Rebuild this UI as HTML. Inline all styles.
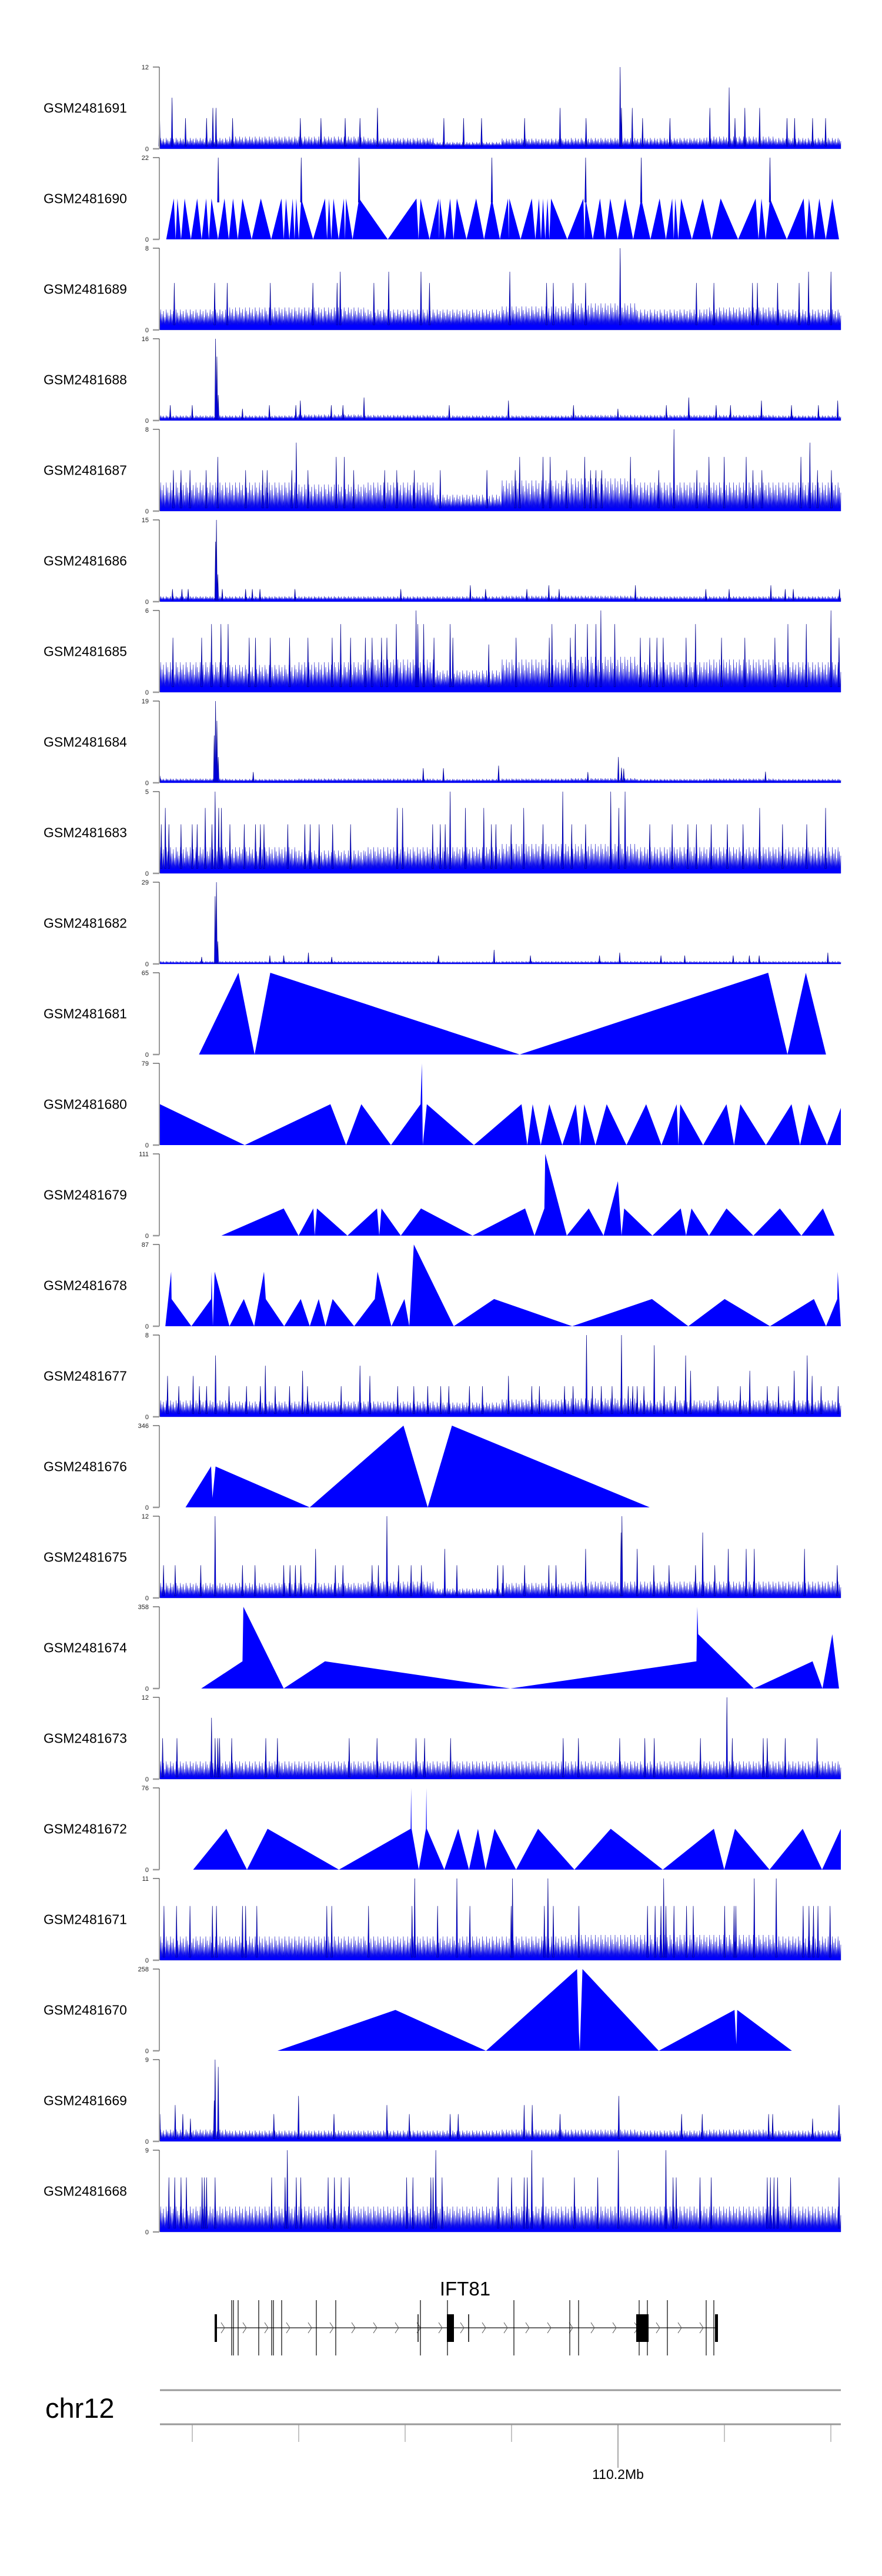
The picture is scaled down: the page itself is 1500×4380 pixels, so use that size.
<!DOCTYPE html>
<html><head><meta charset="utf-8"><style>
html,body{margin:0;padding:0;background:#fff;}
svg{display:block;font-family:"Liberation Sans",Arial,sans-serif;}
</style></head><body>
<svg id="chart" width="1500" height="4380" viewBox="0 0 1500 4380" xmlns="http://www.w3.org/2000/svg">
<g id="tracks"></g>
<g id="gene">
  <text x="791" y="3903" font-size="33" text-anchor="middle" fill="#000">IFT81</text>
</g>
<g id="axis">
  <text x="77" y="4111" font-size="47" fill="#000">chr12</text>
  <line x1="272" y1="4064" x2="1430" y2="4064" stroke="#999" stroke-width="3"/>
  <line x1="272" y1="4122" x2="1430" y2="4122" stroke="#999" stroke-width="3"/>
</g>
</svg>
<script>
// ---------- data ----------
const trackNames = ["GSM2481691","GSM2481690","GSM2481689","GSM2481688","GSM2481687","GSM2481686","GSM2481685","GSM2481684","GSM2481683","GSM2481682","GSM2481681","GSM2481680","GSM2481679","GSM2481678","GSM2481677","GSM2481676","GSM2481675","GSM2481674","GSM2481673","GSM2481672","GSM2481671","GSM2481670","GSM2481669","GSM2481668"];
const trackMax = [12,22,8,16,8,15,6,19,5,29,65,79,111,87,8,346,12,358,12,76,11,258,9,9];
const trackKind = ["n","p","n","n","n","n","n","n","n","n","t","t","t","t","n","t","n","t","n","t","n","t","n","n"];
const posDomain = [16,1534];

// noisy tracks: bin levels, floor, tall spikes
const lvl1691=[1.6,1.8,1.8,1.6,1.0,1.5,1.6,1.6,1.8,1.6]; const floor1691=0.4;
const spkPos1691=[15,43,73,120,134,141,178,329,375,429,462,501,649,693,733,829,908,966,1042,1045,1069,1092,1153,1242,1285,1298,1320,1353,1414,1431,1471,1500];
const spkVal1691=[6,7.5,4.5,4.5,6,6,4.5,4.5,4.5,4.5,4.5,6,4.5,4.5,4.5,4.5,6,4.5,12,6,6,4.5,4.5,6,9,4.5,6,6,4.5,4.5,4.5,4.5];

const pkPos1690=[47,55,71,99,119,131,160,179,200,241,287,297,312,320,331,384,393,403,426,431,460,588,597,637,640,663,678,721,756,792,795,845,861,870,880,888,960,965,997,1020,1053,1089,1130,1158,1165,1178,1226,1266,1344,1357,1376,1451,1463,1486,1515];
const pkVal1690=[11,11,11,11,11,11,11,11,11,11,11,11,11,11,11,11,11,11,11,11,11,11,11,11,11,11,11,11,11,11,11,11,11,11,11,11,11,11,11,11,11,11,11,11,11,11,11,11,11,11,11,11,11,11,11];
const spkPos1690=[146,331,460,756,965,1089,1376];
const spkVal1690=[22,22,22,22,22,22,22];
const pkEnds1690=[30,1530];

const lvl1689=[2.0,2.2,2.2,2.0,2.0,2.3,2.6,2.0,2.2,2.0]; const floor1689=0.5;
const spkPos1689=[48,138,166,262,357,411,418,493,526,598,617,796,878,893,937,965,1042,1212,1251,1337,1348,1393,1441,1462,1512];
const spkVal1689=[4.6,4.6,4.6,4.6,4.6,4.6,5.7,4.6,5.7,5.7,4.6,5.7,4.6,4.6,4.6,4.6,8,4.6,4.6,4.6,4.6,4.6,4.6,5.7,5.7];

const lvl1688=[1.0,1.0,1.2,1.1,1.0,1.0,1.1,1.1,1.1,1.0]; const floor1688=0.3;
const spkPos1688=[39,88,140,143,146,200,260,319,329,398,424,471,661,793,938,1037,1145,1195,1256,1288,1357,1424,1484,1527];
const spkVal1688=[3,3,16,12.5,5,2.3,3,3,3.9,3,3,4.5,3,3.9,3,2.3,3,4.5,3,3,3.9,3,3,3.9];

const lvl1687=[2.8,2.8,2.6,2.8,1.6,3.0,3.2,2.8,2.8,2.8]; const floor1687=0.3;
const spkPos1687=[46,63,83,119,145,207,245,255,310,320,346,409,427,448,517,544,583,641,745,808,818,870,886,923,963,976,988,1001,1065,1128,1162,1213,1240,1274,1323,1338,1358,1445,1465,1482,1513];
const spkVal1687=[4,4,4,4,5.3,4,4,4,4,6.7,4,5.3,5.3,4,4,4,4,4,4,4,5.3,5.3,5.3,4,5.3,4,4,4,5.3,4,8,4,5.3,5.3,5.3,4,4,5.3,6.7,4,4];

const lvl1686=[1.0,1.0,1.0,1.0,1.0,1.1,1.1,1.0,1.0,1.0]; const floor1686=0.3;
const spkPos1686=[44,65,79,140,142,145,155,207,222,239,317,553,708,742,834,883,906,1076,1233,1285,1378,1410,1428,1531];
const spkVal1686=[2.3,2.3,2.3,11,15,5,2.3,2.3,2.3,2.3,2.3,2.3,3,2.3,2.3,3,2.3,3,2.3,2.3,3,2.3,2.3,2.3];

const lvl1685=[2.2,2.0,2.2,2.4,1.6,2.4,2.6,2.2,2.4,2.2]; const floor1685=0.4;
const spkPos1685=[45,109,131,152,168,215,229,262,305,346,400,419,441,474,489,510,522,543,587,591,604,627,663,669,749,810,884,890,931,942,969,988,999,1030,1087,1108,1124,1138,1189,1210,1268,1320,1387,1416,1457,1512,1530];
const spkVal1685=[4,4,5,5,5,4,4,4,4,4,4,5,4,4,4,4,4,5,6,5,5,4,5,4,3.5,4,4,5,4,5,5,5,6,5,4,4,4,4,4,5,4,4,4,5,5,6,4];

const lvl1684=[1.0,0.9,1.0,1.0,0.9,1.0,1.1,0.9,1.0,0.9]; const floor1684=0.3;
const spkPos1684=[16,137,140,143,146,224,603,648,771,970,1038,1045,1050,1366];
const spkVal1684=[1.6,11,19,14.4,6,2.5,3.4,3.4,4,2.5,6,3.5,3.3,2.6];

const lvl1683=[1.6,1.6,1.4,1.6,1.6,1.8,1.8,1.6,1.6,1.6]; const floor1683=0.3;
const spkPos1683=[19,28,36,63,88,99,117,132,139,147,153,172,204,229,240,248,301,339,351,371,401,441,545,557,624,641,652,663,697,738,755,765,799,827,870,914,934,965,1021,1039,1053,1108,1158,1193,1212,1245,1281,1316,1353,1404,1458,1500];
const spkVal1683=[3,4,3,3,3,3,4,3,5,4,4,3,3,3,3,3,3,3,3,3,3,3,4,4,3,3,3,5,4,4,3,3,3,4,3,5,3,3,5,4,5,3,3,3,3,3,3,3,4,3,3,4];

const lvl1682=[1.0,1.0,1.0,1.0,0.9,1.0,1.0,1.0,1.0,1.0]; const floor1682=0.3;
const spkPos1682=[109,139,142,145,261,292,347,399,637,761,842,996,1041,1133,1186,1294,1330,1352,1505];
const spkVal1682=[2.5,24,29,8,3,3,4,2.5,3,5,3,3,4,3,3,3,3,3,4];

const pos1681=[103,191,227,262,818,1372,1415,1456,1501];
const val1681=[0,65,0,65,0,65,0,65,0];

const pos1680=[16,205,396,431,465,531,597,600,602,611,716,822,835,847,865,884,913,943,953,962,987,1012,1056,1100,1134,1168,1172,1176,1227,1279,1296,1310,1367,1424,1443,1463,1503,1534];
const val1680=[39.5,0,39.5,0,39.5,0,39.5,79,0,39.5,0,39.5,0,39.5,0,39.5,0,39.5,0,39.5,0,39.5,0,39.5,0,39.5,0,39.5,0,39.5,0,39.5,0,39.5,0,39.5,0,36];

const pos1679=[153,292,325,358,361,366,434,500,505,510,553,598,713,830,851,873,875,923,972,1005,1037,1045,1051,1114,1177,1189,1201,1240,1279,1339,1398,1446,1494,1520];
const val1679=[0,37,0,37,0,37,0,37,0,37,0,37,0,37,0,37,111,0,37,0,74,0,37,0,37,0,37,0,37,0,37,0,37,0];

const pos1678=[28,41,42,86,130,131,134,138,171,203,226,248,252,293,330,350,370,385,401,449,495,501,532,561,572,582,671,761,935,1113,1194,1275,1376,1474,1501,1526,1527,1534];
const val1678=[0,58,29,0,29,58,0,58,0,29,0,58,29,0,29,0,29,0,29,0,29,58,0,29,0,87,0,29,0,29,0,29,0,29,0,29,58,0];

const lvl1677=[1.6,1.5,1.5,1.5,1.4,1.7,1.8,1.6,1.6,1.6]; const floor1677=0.3;
const spkPos1677=[33,58,90,104,120,140,170,209,240,251,273,305,334,345,420,462,484,546,582,613,642,660,706,735,793,845,862,918,937,967,980,1000,1024,1045,1060,1070,1080,1095,1118,1140,1165,1188,1199,1260,1310,1331,1370,1395,1430,1459,1470,1490,1528];
const spkVal1677=[4,3,4,3,3,6,3,3,3,5,3,3,4.5,3,3,5,4,3,3,3,3,3,3,3,4,3,3,3,3,8,3,3,3,8,3,3,3,3,7,3,3,6,4.5,3,3,4.5,3,3,4.5,6,4,3,3];

const pos1676=[73,130,133,140,350,559,613,667,1108];
const val1676=[0,174,40,173,0,346,0,346,0];

const lvl1675=[2.2,2.2,2.2,2.4,1.4,2.2,2.4,2.4,2.4,2.4]; const floor1675=0.3;
const spkPos1675=[24,50,107,139,200,228,292,306,318,330,363,407,424,489,503,522,548,576,599,651,678,769,781,829,883,899,965,1044,1046,1080,1117,1151,1210,1226,1253,1283,1323,1341,1453,1526];
const spkVal1675=[4.8,4.8,4.8,12,4.8,4.8,4.8,4.8,4.8,4.8,7.2,4.8,4.8,4.8,4.8,12,4.8,4.8,4.8,7.2,4.8,4.8,4.8,4.8,4.8,4.8,7.2,9.6,12,7.2,4.8,4.8,4.8,9.6,4.8,7.2,7.2,7.2,7.2,4.8];

const pos1674=[108,200,202,292,384,797,1212,1214,1216,1340,1471,1493,1515,1530];
const val1674=[0,119,358,0,119,0,119,358,238,0,119,0,238,0];

const lvl1673=[2.6,2.6,2.6,2.6,2.6,2.6,2.6,2.6,2.6,2.6]; const floor1673=0.3;
const spkPos1673=[22,54,131,139,145,149,176,252,278,438,500,587,606,664,915,949,1041,1097,1118,1221,1280,1292,1361,1370,1410,1481];
const spkVal1673=[6,6,9,6,6,6,6,6,6,6,6,6,6,6,6,6,6,6,6,6,12,6,6,6,6,6];

const pos1672=[90,164,210,256,415,575,576,577,593,609,610,611,650,681,705,725,742,762,810,859,940,1021,1137,1251,1274,1298,1375,1449,1492,1534];
const val1672=[0,38,0,38,0,38,76,38,0,38,76,38,0,38,0,38,0,38,0,38,0,38,0,38,0,38,0,38,0,38];

const lvl1671=[3.2,3.2,3.2,3.2,3.2,3.2,3.4,3.4,3.4,3.2]; const floor1671=0.4;
const spkPos1671=[25,53,83,133,142,200,207,232,388,399,481,578,584,635,678,707,799,802,873,881,893,950,1103,1120,1133,1139,1144,1162,1190,1205,1275,1296,1300,1341,1390,1450,1463,1473,1483,1510];
const spkVal1671=[7.3,7.3,7.3,7.3,7.3,7.3,7.3,7.3,7.3,7.3,7.3,7.3,11,7.3,11,7.3,7.3,11,7.3,11,7.3,7.3,7.3,7.3,7.3,11,7.3,7.3,7.3,7.3,7.3,7.3,7.3,11,11,7.3,7.3,7.3,7.3,7.3];

const pos1670=[278,541,743,946,950,952,958,1128,1297,1301,1303,1425];
const val1670=[0,129,0,258,60,0,258,0,129,20,129,0];

const lvl1669=[1.3,1.2,1.2,1.2,1.2,1.3,1.3,1.2,1.3,1.2]; const floor1669=0.3;
const spkPos1669=[16,50,67,84,137,139,146,270,325,404,522,572,663,681,828,846,908,1039,1179,1225,1373,1382,1471,1530];
const spkVal1669=[3,4,3,2.5,4.5,9,8.2,3,5,3,4,3,3,3,4,4,3,5,3,3,3,3,2.5,4];

const lvl1668=[2.8,2.8,2.8,2.8,2.8,2.8,2.8,2.8,2.8,2.8]; const floor1668=0.4;
const spkPos1668=[36,49,63,75,110,115,120,139,265,295,300,320,330,391,405,420,438,566,580,620,625,631,645,770,800,828,835,845,870,940,992,1038,1144,1160,1167,1220,1245,1370,1377,1385,1393,1422,1530];
const spkVal1668=[6,6,6,6,6,6,6,6,6,6,9,6,6,6,6,6,6,6,6,6,6,9,6,6,6,6,6,9,6,6,6,9,9,6,6,6,6,6,6,6,6,6,6];

// gene model
const exonLinePos=[394,397,405,440,462,465,479,538,571,715,761,874,969,984,1087,1101,1135,1201,1214];
const exonBoxStart=[365,760,1082,1216];
const exonBoxEnd=[369,772,1103,1221];
const shortLinePos=[711,797];
const geneStart=367, geneEnd=1219;

// genome axis ticks
const tickGenomic=[110.12,110.14,110.16,110.18,110.2,110.22,110.24];
const tickLabelIdx=4;

// ---------- rendering ----------
const NS="http://www.w3.org/2000/svg";
const X0=272, X1=1430, TOP0=114, PITCH=154, H=139;
function xScale(p){return X0+(p-posDomain[0])/(posDomain[1]-posDomain[0])*(X1-X0);}
function gScale(g){return 1051+(g-110.2)/0.02*181;}
function mk(tag,attrs,parent){const e=document.createElementNS(NS,tag);for(const k in attrs)e.setAttribute(k,attrs[k]);parent.appendChild(e);return e;}

const noisy={
 GSM2481691:[lvl1691,floor1691,spkPos1691,spkVal1691],GSM2481689:[lvl1689,floor1689,spkPos1689,spkVal1689],
 GSM2481688:[lvl1688,floor1688,spkPos1688,spkVal1688],GSM2481687:[lvl1687,floor1687,spkPos1687,spkVal1687],
 GSM2481686:[lvl1686,floor1686,spkPos1686,spkVal1686],GSM2481685:[lvl1685,floor1685,spkPos1685,spkVal1685],
 GSM2481684:[lvl1684,floor1684,spkPos1684,spkVal1684],GSM2481683:[lvl1683,floor1683,spkPos1683,spkVal1683],
 GSM2481682:[lvl1682,floor1682,spkPos1682,spkVal1682],GSM2481677:[lvl1677,floor1677,spkPos1677,spkVal1677],
 GSM2481675:[lvl1675,floor1675,spkPos1675,spkVal1675],GSM2481673:[lvl1673,floor1673,spkPos1673,spkVal1673],
 GSM2481671:[lvl1671,floor1671,spkPos1671,spkVal1671],GSM2481669:[lvl1669,floor1669,spkPos1669,spkVal1669],
 GSM2481668:[lvl1668,floor1668,spkPos1668,spkVal1668]};
const tri={
 GSM2481681:[pos1681,val1681],GSM2481680:[pos1680,val1680],GSM2481679:[pos1679,val1679],GSM2481678:[pos1678,val1678],
 GSM2481676:[pos1676,val1676],GSM2481674:[pos1674,val1674],GSM2481672:[pos1672,val1672],GSM2481670:[pos1670,val1670]};

const tracksG=document.getElementById('tracks');
function spike(g,p,fy,vy){
  const cx=xScale(p);
  const s=mk('polygon',{points:(cx-1.3)+','+fy+' '+cx+','+vy+' '+(cx+1.3)+','+fy,fill:'#0000ff',stroke:'#00008b','stroke-width':0.7},g);
  
  
}
trackNames.forEach((name,i)=>{
  const top=TOP0+i*PITCH, base=top+H, max=trackMax[i];
  const y=v=>base-Math.min(v,max)/max*H;
  const g=mk('g',{},tracksG);
  
  
  const lab=mk('text',{x:74,y:top+H/2+8,'font-size':23,fill:'#000'},g);
  lab.textContent=name;
  
  
  let pts=[];
  if(trackKind[i]==='n'){
    const d=noisy[name]; const lv=d[0], fl=d[1];
    pts.push([X0,base]);
    let k=0;
    for(let x=X0;x<X1;x+=2.4,k++){
      const p=posDomain[0]+(x-X0)/(X1-X0)*(posDomain[1]-posDomain[0]);
      const b=Math.min(lv.length-1,Math.floor((p-posDomain[0])/(posDomain[1]-posDomain[0])*lv.length));
      const f=[1,0.7,0.9,0.5,1,0.8,0.6][k%7];
      pts.push([x,y(fl)]);pts.push([x+1.2,y(fl+(lv[b]-fl)*f)]);
    }
    pts.push([X1,y(fl)]);pts.push([X1,base]);
    const area=mk('polygon',{points:pts.map(q=>q[0].toFixed(1)+','+q[1].toFixed(1)).join(' '),fill:'#0000ff',stroke:'#1010c0','stroke-width':0.4},g);
    
    
    d[2].forEach((p,j)=>spike(g,p,y(fl),y(d[3][j])));
  } else {
    let P,V;
    if(trackKind[i]==='p'){
      P=[pkEnds1690[0]];V=[0];
      pkPos1690.forEach((p,j)=>{ if(j>0){P.push((pkPos1690[j-1]+p)/2);V.push(0);} P.push(p);V.push(pkVal1690[j]);});
      P.push(pkEnds1690[1]);V.push(0);
    } else {P=tri[name][0];V=tri[name][1];}
    pts.push([xScale(P[0]),base]);
    P.forEach((p,j)=>pts.push([xScale(p),y(V[j])]));
    pts.push([xScale(P[P.length-1]),base]);
    const area=mk('polygon',{points:pts.map(q=>q[0].toFixed(1)+','+q[1].toFixed(1)).join(' '),fill:'#0000ff'},g);
    
    
    if(trackKind[i]==='p') spkPos1690.forEach((p,j)=>spike(g,p,y(10),y(spkVal1690[j])));
  }
  const ax=mk('line',{x1:271,y1:top,x2:271,y2:base,stroke:'#999','stroke-width':2},g);
  
  
  const t1=mk('line',{x1:260,y1:top,x2:271,y2:top,stroke:'#222','stroke-width':1},g);
  
  
  const t0=mk('line',{x1:260,y1:base,x2:271,y2:base,stroke:'#999','stroke-width':2.5},g);
  
  
  const lm=mk('text',{x:253,y:top+4,'font-size':11,'text-anchor':'end',fill:'#222'},g);
  lm.textContent=String(max);
  
  
  const lz=mk('text',{x:253,y:base+4,'font-size':11,'text-anchor':'end',fill:'#222'},g);
  lz.textContent='0';
  
  
});

// gene model
const gg=document.getElementById('gene');
const gl=mk('line',{x1:geneStart,y1:3958,x2:geneEnd,y2:3958,stroke:'#333','stroke-width':1.5},gg);


for(let x=geneStart+12;x<geneEnd-5;x+=37){
  const c=mk('polyline',{points:(x-3)+',3949 '+(x+3)+',3958 '+(x-3)+',3967',fill:'none',stroke:'#555','stroke-width':1},gg);
  
  
}
exonLinePos.forEach(x=>{
  const l=mk('line',{x1:x,y1:3911,x2:x,y2:4005,stroke:'#000','stroke-width':1.2},gg);
  
  
});
shortLinePos.forEach(x=>{
  const l=mk('line',{x1:x,y1:3935,x2:x,y2:3982,stroke:'#000','stroke-width':1.5},gg);
  
  
});
exonBoxStart.forEach((s,j)=>{
  const r=mk('rect',{x:s,y:3935,width:exonBoxEnd[j]-s,height:47,fill:'#000'},gg);
  
  
});

// axis ticks
const ag=document.getElementById('axis');
tickGenomic.forEach((t,j)=>{
  const x=gScale(t);
  const l=mk('line',{x1:x,y1:4123,x2:x,y2:j===tickLabelIdx?4196:4152,stroke:j===tickLabelIdx?'#555':'#888','stroke-width':1},ag);
  
  
  if(j===tickLabelIdx){
    const tx=mk('text',{x:x,y:4215,'font-size':23,'text-anchor':'middle',fill:'#000'},ag);
    tx.textContent=t.toFixed(1)+'Mb';
    
    
  }
});
</script>
</body></html>
